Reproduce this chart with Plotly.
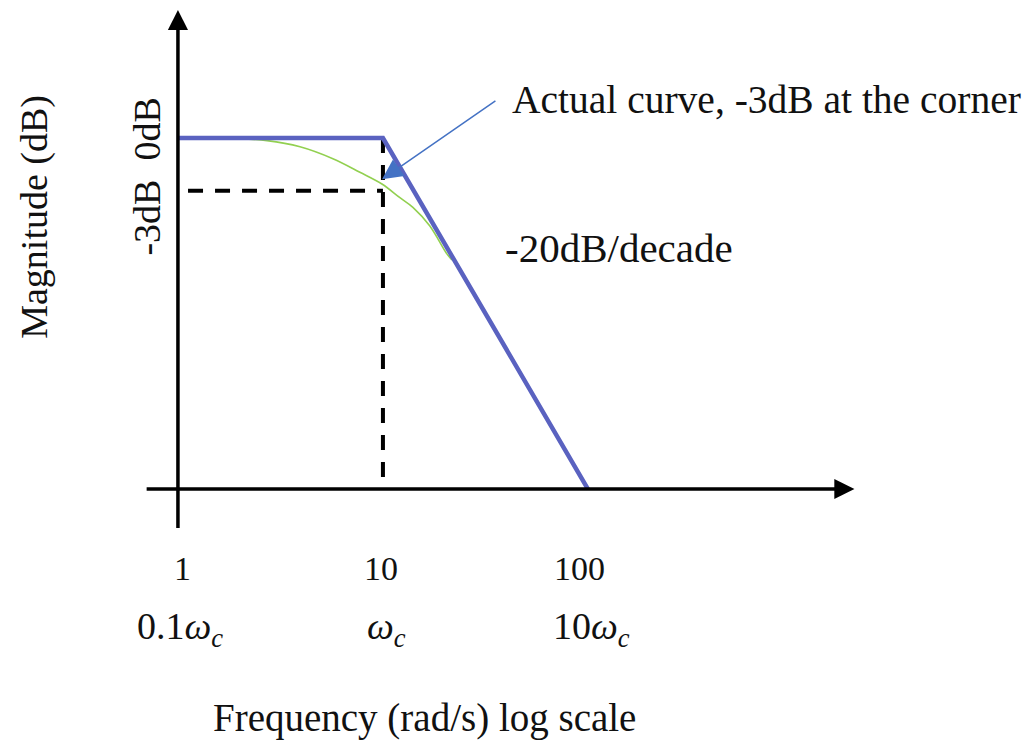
import math
import plotly.graph_objects as go

# Bode magnitude sketch of a first-order low-pass filter
# Straight-line asymptote (rad/s, dB)
asym_freq = [1, 10, 100]
asym_db = [0, 0, -20]

# Actual response, read point by point
actual_freq = [1.64, 2.72, 3.94, 5.70, 7.72, 9.89, 12.1, 14.0, 16.9, 20.5, 21.7]
actual_db = [0.0, -0.15, -0.5, -1.18, -1.95, -2.62, -3.4, -3.95, -5.0, -6.6, -6.95]

# Corner frequency and the -3 dB marker
corner_freq = 10
corner_db = -3
floor_db = -20
dash_start_freq = 1.12

# Tick labels along the frequency axis
tick_freqs = [1, 10, 100]
tick_labels = ["1", "10", "100"]
omega_labels = ["0.1<i>ω</i><sub><i>c</i></sub>", "<i>ω</i><sub><i>c</i></sub>", "10<i>ω</i><sub><i>c</i></sub>"]

SERIF = "Liberation Serif"
lg = math.log10

fig = go.Figure()

# dashed guides at the corner
fig.add_trace(go.Scatter(
    x=[dash_start_freq, corner_freq], y=[corner_db, corner_db], mode="lines",
    line=dict(color="black", width=4, dash="15px,12px"), hoverinfo="skip"))
fig.add_trace(go.Scatter(
    x=[corner_freq, corner_freq], y=[0, floor_db], mode="lines",
    line=dict(color="black", width=4, dash="15px,12px"), hoverinfo="skip"))

# actual curve
fig.add_trace(go.Scatter(
    x=actual_freq, y=actual_db, mode="lines", line=dict(color="#92D050", width=1.6, shape="spline"),
    hoverinfo="skip"))

# asymptote
fig.add_trace(go.Scatter(
    x=asym_freq, y=asym_db, mode="lines", line=dict(color="#5A62C0", width=4.5),
    hoverinfo="skip"))

ann = []
# axes with arrowheads
ann.append(dict(x=0, y=7.3, ax=0, ay=-22.3, xref="x", yref="y", axref="x", ayref="y",
                showarrow=True, arrowhead=2, arrowsize=1.15, arrowwidth=3.5, arrowcolor="black", text=""))
ann.append(dict(x=3.30, y=floor_db, ax=-0.16, ay=floor_db, xref="x", yref="y", axref="x", ayref="y",
                showarrow=True, arrowhead=2, arrowsize=1.15, arrowwidth=3.5, arrowcolor="black", text=""))
# callout arrow to the -3 dB point
ann.append(dict(x=lg(9.9), y=-2.35, ax=1.556, ay=2.17, xref="x", yref="y", axref="x", ayref="y",
                showarrow=True, arrowhead=2, arrowsize=2.7, arrowwidth=1.5, arrowcolor="#4472C4", text=""))

def label(text, x, y, size=38, xanchor="center", angle=0, xshift=0):
    return dict(text=text, x=x, y=y, xref="x", yref="y", showarrow=False,
                xanchor=xanchor, yanchor="middle", textangle=angle, xshift=xshift,
                font=dict(family=SERIF, size=size, color="#111111"))

ann.append(label("Actual curve, -3dB at the corner", 1.62, 2.17, size=39.5, xanchor="left"))
ann.append(label("-20dB/decade", 1.585, -6.27, size=41, xanchor="left"))
ann.append(label("Frequency (rad/s) log scale", 1.205, -33.05, size=39))
ann.append(label("Magnitude (dB)", -0.698, -4.5, angle=-90))
ann.append(label("-3dB\u00a0\u00a00dB", -0.151, -2.2, angle=-90))

num_shift = {1: 5, 10: -2, 100: -8}
for f, t, w in zip(tick_freqs, tick_labels, omega_labels):
    ann.append(label(t, lg(f), -24.5, size=34, xshift=num_shift[f]))
    ann.append(label(w, lg(f), -28.0, size=38, xshift=4 if f > 1 else 2))

fig.update_layout(
    width=1033, height=740,
    margin=dict(l=0, r=0, t=0, b=0),
    paper_bgcolor="white", plot_bgcolor="white",
    showlegend=False,
    annotations=ann,
    xaxis=dict(type="log", range=[-0.868, 4.171], visible=False, fixedrange=True),
    yaxis=dict(range=[-34.30, 7.863], visible=False, fixedrange=True),
)

fig.write_html("out.html")
